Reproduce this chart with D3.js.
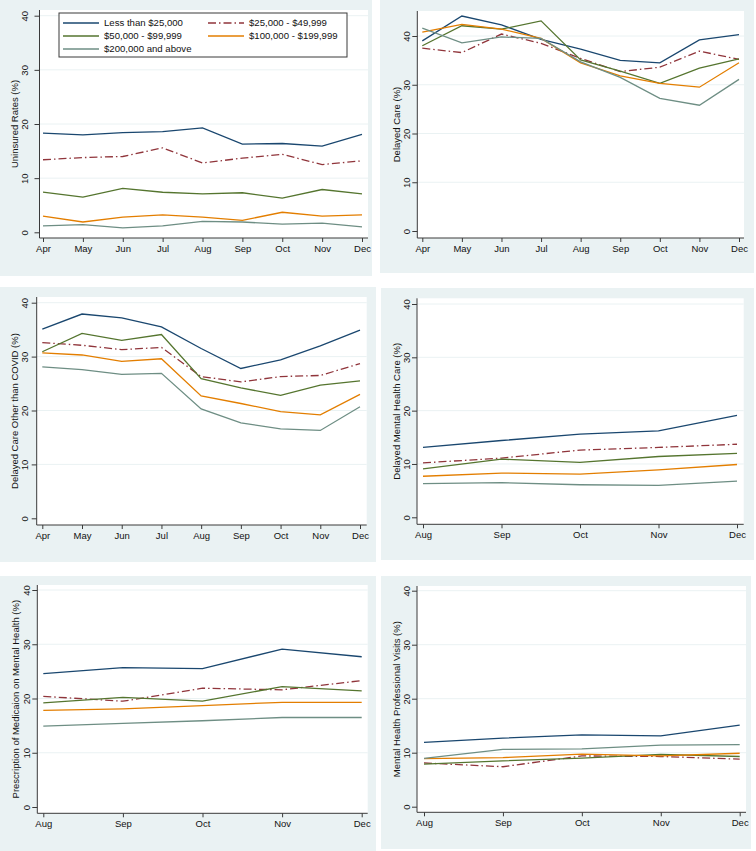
<!DOCTYPE html>
<html><head><meta charset="utf-8">
<script src="https://cdn.jsdelivr.net/npm/d3@7"></script>
<style>
html,body{margin:0;padding:0;background:#fff;}
svg{display:block;font-family:"Liberation Sans",Arial,sans-serif;}
</style></head>
<body>
<script>
// ---------- data ----------
const monthsAprDec = ["Apr","May","Jun","Jul","Aug","Sep","Oct","Nov","Dec"];
const monthsAugDec = ["Aug","Sep","Oct","Nov","Dec"];
const incomeGroups = ["Less than $25,000","$25,000 - $49,999","$50,000 - $99,999","$100,000 - $199,999","$200,000 and above"];
const yTicks = [0,10,20,30,40];

// series order follows incomeGroups
const uninsured = [
  [18.3,18.0,18.4,18.6,19.3,16.3,16.4,15.9,18.1],
  [13.4,13.8,14.0,15.6,12.8,13.7,14.4,12.5,13.2],
  [7.4,6.5,8.1,7.4,7.1,7.3,6.3,7.9,7.1],
  [3.0,1.9,2.8,3.2,2.8,2.2,3.7,3.0,3.2],
  [1.2,1.4,0.8,1.2,2.0,1.9,1.5,1.7,1.0]
];
const delayedCare = [
  [39.0,44.1,42.3,39.3,37.3,35.0,34.5,39.2,40.3],
  [37.5,36.6,40.4,38.5,35.4,32.7,33.6,36.9,35.2],
  [38.0,42.1,41.4,43.1,35.1,32.8,30.3,33.4,35.3],
  [40.8,42.4,41.4,39.5,34.5,31.8,30.3,29.5,34.5],
  [41.6,38.6,39.8,39.5,34.7,31.5,27.2,25.8,31.1]
];
const delayedOther = [
  [35.1,37.9,37.2,35.5,31.5,27.8,29.4,32.0,34.9],
  [32.6,32.1,31.3,31.7,26.3,25.3,26.3,26.5,28.7],
  [30.9,34.3,33.0,34.1,25.9,24.2,22.8,24.7,25.5],
  [30.7,30.3,29.1,29.6,22.7,21.3,19.8,19.2,23.0],
  [28.1,27.6,26.7,26.9,20.3,17.7,16.6,16.3,20.7]
];
const delayedMental = [
  [13.1,14.4,15.6,16.2,19.1],
  [10.2,11.1,12.6,13.1,13.7],
  [9.1,10.9,10.3,11.4,12.0],
  [7.7,8.3,8.1,8.9,9.9],
  [6.3,6.5,6.1,6.0,6.8]
];
const prescription = [
  [24.6,25.7,25.5,29.1,27.7],
  [20.4,19.5,21.9,21.6,23.3],
  [19.2,20.2,19.5,22.2,21.4],
  [17.8,18.1,18.7,19.3,19.3],
  [14.9,15.4,15.9,16.5,16.5]
];
const mhVisits = [
  [11.9,12.7,13.3,13.1,15.1],
  [8.1,7.4,9.4,9.3,8.8],
  [7.9,8.5,9.0,9.7,9.3],
  [8.9,9.1,9.75,9.4,9.9],
  [8.95,10.6,10.7,11.4,11.5]
];

// ---------- styles ----------
const colors = ["#1a476f","#90353b","#55752f","#e37e00","#6e8e84"];
const dashes = [null,"8,3,1.5,3",null,null,null];
const BG = "#eaf2f3";

// ---------- layout ----------
const panels = [
  {title:"Uninsured Rates (%)", months:monthsAprDec, data:uninsured,
   bg:[0,0,372,276], left:39.5, right:368, top:10, bottom:238, xr:[43,362], yr:[232.3,15.7],
   tickC:-14.5, titleC:-24.5, legend:true},
  {title:"Delayed Care (%)", months:monthsAprDec, data:delayedCare,
   bg:[380,0,754,273], left:417.3, right:744, top:11, bottom:238, xr:[422.3,739], yr:[231,36],
   tickC:-11, titleC:-21},
  {title:"Delayed Care Other than COVID (%)", months:monthsAprDec, data:delayedOther,
   bg:[0,287,376,562], left:36.7, right:366.7, top:297, bottom:525, xr:[42.3,360], yr:[518.3,302.7],
   tickC:-11.7, titleC:-21.7},
  {title:"Delayed Mental Health Care (%)", months:monthsAugDec, data:delayedMental,
   bg:[381,288,754,560], left:417, right:743.7, top:298.3, bottom:524.3, xr:[423,737], yr:[517.3,304],
   tickC:-10.5, titleC:-20.7},
  {title:"Prescription of Medicaion on Mental Health (%)", months:monthsAugDec, data:prescription,
   bg:[0,576,376,851], left:37.3, right:367.7, top:585, bottom:813.3, xr:[43.3,361.7], yr:[807,590],
   tickC:-11, titleC:-22},
  {title:"Mental Health Professional Visits (%)", months:monthsAugDec, data:mhVisits,
   bg:[381,576,751,849], left:417, right:746, top:586, bottom:812.3, xr:[424,739.7], yr:[806.7,590.7],
   tickC:-10.5, titleC:-20.7}
];

const svg = d3.select("body").append("svg").attr("width",756).attr("height",851);
svg.append("rect").attr("width",756).attr("height",851).attr("fill","#fff");

panels.forEach(p => {
  const g = svg.append("g");
  g.append("rect").attr("x",p.bg[0]).attr("y",p.bg[1])
    .attr("width",p.bg[2]-p.bg[0]).attr("height",p.bg[3]-p.bg[1]).attr("fill",BG);
  g.append("rect").attr("x",p.left).attr("y",p.top)
    .attr("width",p.right-p.left).attr("height",p.bottom-p.top).attr("fill","#fff");

  const x = d3.scalePoint().domain(p.months).range(p.xr);
  const y = d3.scaleLinear().domain([0,40]).range(p.yr);

  // grid
  g.append("g").selectAll("line").data(yTicks.filter(t=>t>0)).join("line")
    .attr("x1",p.left).attr("x2",p.right)
    .attr("y1",d=>y(d)).attr("y2",d=>y(d))
    .attr("stroke",BG).attr("stroke-width",1);

  // y axis
  const ya = g.append("g").attr("transform",`translate(${p.left},0)`)
    .call(d3.axisLeft(y).tickValues(yTicks).tickSize(5).tickPadding(3).tickFormat(d3.format("d")));
  ya.select(".domain").attr("d",`M0,${p.top}V${p.bottom}`).attr("stroke","#3a3a3a");
  ya.selectAll(".tick line").attr("stroke","#3a3a3a");
  ya.selectAll(".tick text")
    .attr("font-size",9.5).attr("fill","#111")
    .attr("x",0).attr("dy","0.35em")
    .attr("text-anchor","middle")
    .attr("transform",`translate(${p.tickC},0) rotate(-90)`);

  // x axis
  const xa = g.append("g").attr("transform",`translate(0,${p.bottom})`)
    .call(d3.axisBottom(x).tickSize(4).tickPadding(3));
  xa.select(".domain").attr("d",`M${p.left},0H${p.right}`).attr("stroke","#3a3a3a");
  xa.selectAll(".tick line").attr("stroke","#3a3a3a");
  xa.selectAll(".tick text").attr("font-size",9.5).attr("fill","#111");

  // y title
  g.append("text")
    .attr("transform",`translate(${p.left+p.titleC},${(p.top+p.bottom)/2}) rotate(-90)`)
    .attr("text-anchor","middle").attr("dy","0.35em")
    .attr("font-size",9.5).attr("fill","#111").text(p.title);

  // lines
  const line = d3.line().x((d,i)=>x(p.months[i])).y(d=>y(d));
  p.data.forEach((s,k) => {
    g.append("path").datum(s).attr("d",line)
      .attr("fill","none").attr("stroke",colors[k]).attr("stroke-width",1.3)
      .attr("stroke-dasharray",dashes[k]);
  });

  if (p.legend) {
    const lg = g.append("g");
    lg.append("rect").attr("x",59).attr("y",13).attr("width",288).attr("height",44)
      .attr("fill","#fff").attr("stroke","#3a3a3a").attr("stroke-width",1);
    const pos = [[63,23],[208,23],[63,36],[208,36],[63,49]];
    incomeGroups.forEach((name,k) => {
      const [lx,ly] = pos[k];
      lg.append("line").attr("x1",lx).attr("x2",lx+36).attr("y1",ly).attr("y2",ly)
        .attr("stroke",colors[k]).attr("stroke-width",1.3).attr("stroke-dasharray",dashes[k]);
      lg.append("text").attr("x",lx+41).attr("y",ly).attr("dy","0.35em")
        .attr("font-size",9.6).attr("fill","#111").text(name);
    });
  }
});
</script>
</body></html>
